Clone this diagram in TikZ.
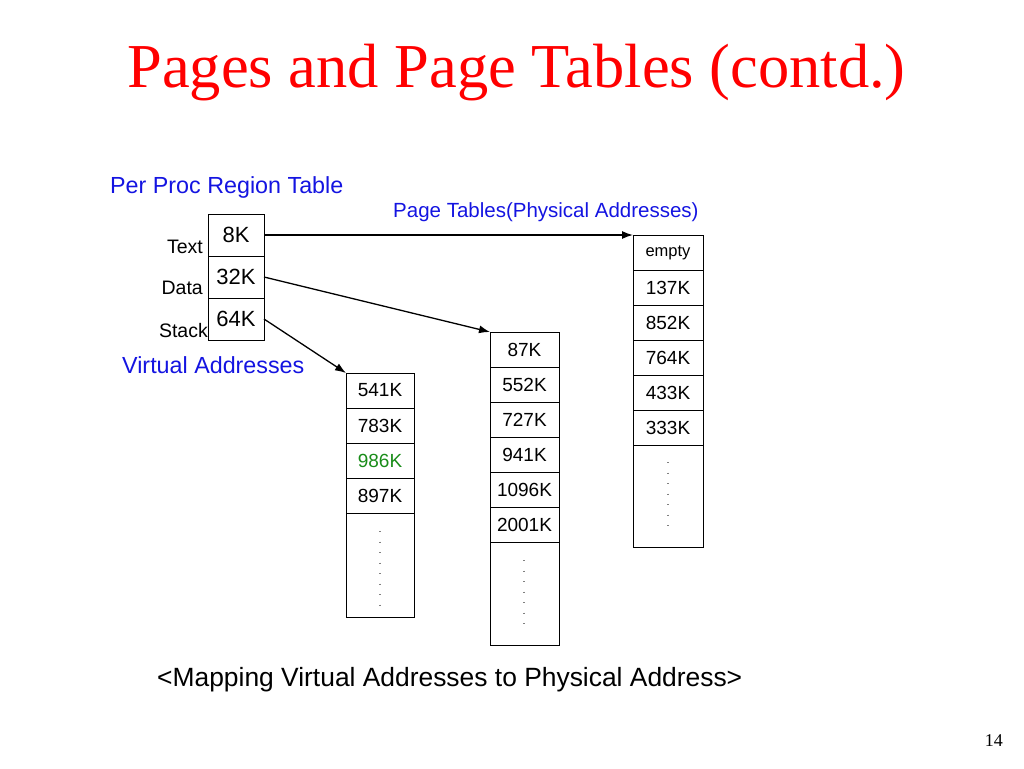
\documentclass[tikz,border=0pt]{standalone}
\usepackage{fontspec}
\setmainfont{Liberation Serif}
\setsansfont{Liberation Sans}
\usepackage{tikz}
\usetikzlibrary{positioning,arrows.meta}

\definecolor{titlered}{RGB}{255,0,0}
\definecolor{labelblue}{RGB}{20,20,225}
\definecolor{pagegreen}{RGB}{25,140,25}

\tikzset{
  regcell/.style={draw, line width=1pt, outer sep=0pt, inner sep=0pt,
    minimum width=56pt, minimum height=42pt,
    font=\sffamily\fontsize{22}{24}\selectfont},
  pagecell/.style={draw, line width=1pt, outer sep=0pt, inner sep=0pt,
    minimum height=35pt, font=\sffamily\fontsize{19}{21}\selectfont},
  tailcell/.style={draw, line width=1pt, outer sep=0pt, inner sep=0pt},
  sidelabel/.style={inner sep=0pt, anchor=base east,
    font=\sffamily\fontsize{19.5}{22}\selectfont},
  bluelabel/.style={inner sep=0pt, anchor=base west, text=labelblue,
    font=\sffamily\fontsize{23.3}{26}\selectfont},
  arr/.style={-{Latex[length=11pt,width=8pt]}, line width=1.3pt},
  dotcol/.style={line width=1.2pt, gray, dash pattern=on 1.2pt off 9.3pt}
}

\begin{document}
\begin{tikzpicture}[x=1pt, y=-1pt]
    \useasboundingbox (0,0) rectangle (1024,768);
    % title
    \node [inner sep=0pt, anchor=base, text=titlered,
      font=\rmfamily\fontsize{62.5}{66}\selectfont] (title) at (516.5,87) {Pages and Page Tables (contd.)};
    % region table
    \node [bluelabel] (regtitle) at (110,193) {Per Proc Region Table};
    \node [regcell] (rtext) at (236,235) {8K};
    \node [regcell, below=0pt of rtext] (rdata) {32K};
    \node [regcell, below=0pt of rdata] (rstack) {64K};
    \node [sidelabel] (ltext) at (203,253) {Text};
    \node [sidelabel] (ldata) at (203,294) {Data};
    \node [sidelabel] (lstack) at (208,337) {Stack};
    \node [bluelabel] (virt) at (122,373) {Virtual Addresses};
    \node [bluelabel, font=\sffamily\fontsize{20.5}{23}\selectfont] (phys) at (393,217) {Page Tables(Physical Addresses)};
    % stack pages
    \node [pagecell, minimum width=68pt] (p541) at (380,390.5) {541K};
    \node [pagecell, minimum width=68pt, below=0pt of p541] (p783) {783K};
    \node [pagecell, minimum width=68pt, below=0pt of p783, text=pagegreen] (p986) {986K};
    \node [pagecell, minimum width=68pt, below=0pt of p986] (p897) {897K};
    \node [tailcell, minimum width=68pt, minimum height=104pt, below=0pt of p897] (tailA) {};
    \draw [dotcol] ([yshift=-18pt]tailA.north) -- ([yshift=12pt]tailA.south);
    % data pages
    \node [pagecell, minimum width=69pt] (p87) at (524.5,349.5) {87K};
    \node [pagecell, minimum width=69pt, below=0pt of p87] (p552) {552K};
    \node [pagecell, minimum width=69pt, below=0pt of p552] (p727) {727K};
    \node [pagecell, minimum width=69pt, below=0pt of p727] (p941) {941K};
    \node [pagecell, minimum width=69pt, below=0pt of p941] (p1096) {1096K};
    \node [pagecell, minimum width=69pt, below=0pt of p1096] (p2001) {2001K};
    \node [tailcell, minimum width=69pt, minimum height=103pt, below=0pt of p2001] (tailB) {};
    \draw [dotcol] ([xshift=-0.5pt,yshift=-18pt]tailB.north) -- ([xshift=-0.5pt,yshift=12pt]tailB.south);
    % text pages
    \node [pagecell, minimum width=70pt, font=\sffamily\fontsize{16.5}{19}\selectfont] (empty) at (668,252.5) {empty};
    \node [pagecell, minimum width=70pt, below=0pt of empty] (p137) {137K};
    \node [pagecell, minimum width=70pt, below=0pt of p137] (p852) {852K};
    \node [pagecell, minimum width=70pt, below=0pt of p852] (p764) {764K};
    \node [pagecell, minimum width=70pt, below=0pt of p764] (p433) {433K};
    \node [pagecell, minimum width=70pt, below=0pt of p433] (p333) {333K};
    \node [tailcell, minimum width=70pt, minimum height=102pt, below=0pt of p333] (tailC) {};
    \draw [dotcol] ([yshift=-17pt]tailC.north) -- ([yshift=13pt]tailC.south);
    % mappings
    \draw [arr] (rtext.east) -- (empty.north west);
    \draw [arr] (rdata.east) -- (p87.north west);
    \draw [arr] (rstack.east) -- (p541.north west);
    % caption
    \node [inner sep=0pt, anchor=base west, font=\sffamily\fontsize{26.4}{29}\selectfont] (caption) at (157,686) {<Mapping Virtual Addresses to Physical Address>};
    \node [inner sep=0pt, anchor=base east, font=\rmfamily\fontsize{18}{20}\selectfont] (pagenum) at (1003,746) {14};
\end{tikzpicture}
\end{document}
